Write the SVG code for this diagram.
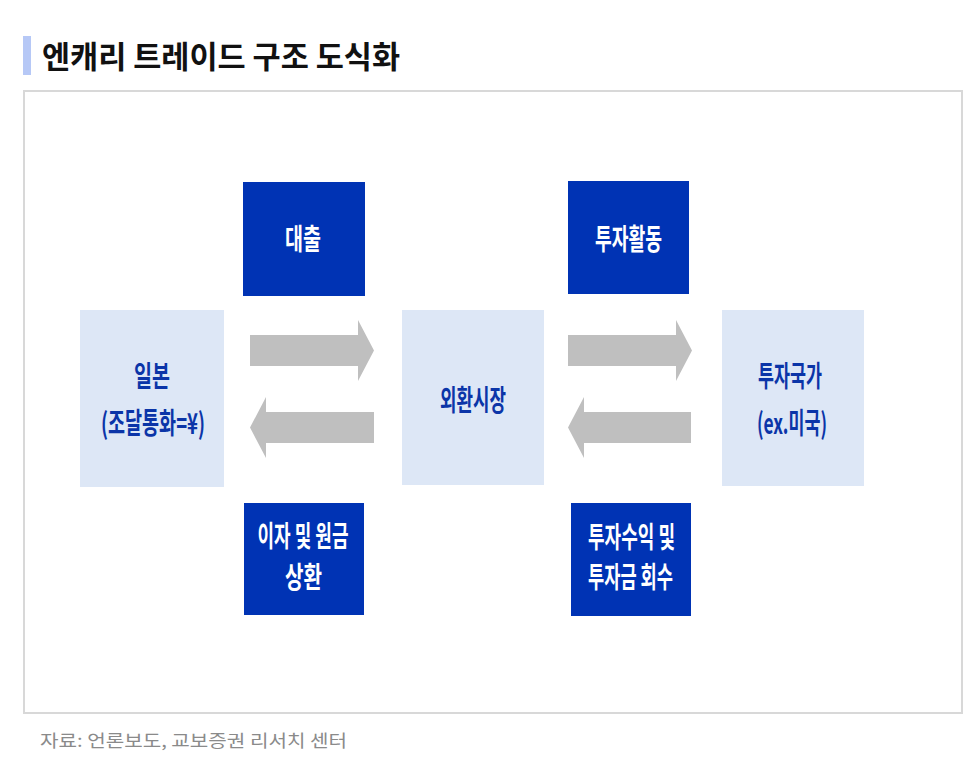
<svg xmlns="http://www.w3.org/2000/svg" width="975" height="766" viewBox="0 0 975 766">
<style>
.t{font-family:"Noto Sans CJK KR","Noto Sans",sans-serif;font-weight:bold;}
.dark{fill:#0033b4;}
.light{fill:#dde7f6;}
.wt{fill:#ffffff;font-size:29px;text-anchor:middle;}
.bt{fill:#0b35a8;font-size:29px;text-anchor:middle;}
.arr{fill:#bfbfbf;}
</style>
<rect width="975" height="766" fill="#ffffff"/>
<rect x="23" y="36" width="8" height="39" fill="#b6c8f6"/>
<text class="t" x="42" y="68" font-size="31" fill="#111111" textLength="358" lengthAdjust="spacingAndGlyphs">엔캐리 트레이드 구조 도식화</text>
<rect x="24" y="91" width="938" height="622" fill="#ffffff" stroke="#d8d8d8" stroke-width="2"/>

<g id="connectors">
<polygon class="arr" points="250,335 358,335 358,320 374,350.5 358,381 358,366 250,366"/>
<polygon class="arr" points="374,412 266,412 266,397 250,427.5 266,458 266,443 374,443"/>
<polygon class="arr" points="568,335 676,335 676,320 692,350.5 676,381 676,366 568,366"/>
<polygon class="arr" points="691,412 584,412 584,397 568,427.5 584,458 584,443 691,443"/>
</g>

<g id="node-japan">
<rect class="light" x="80" y="310" width="144" height="177"/>
<text class="t bt" x="152" y="387" textLength="36" lengthAdjust="spacingAndGlyphs">일본</text>
<text class="t bt" x="153" y="434" textLength="104" lengthAdjust="spacingAndGlyphs">(조달통화=¥)</text>
</g>
<g id="node-fx">
<rect class="light" x="402" y="310" width="142" height="175"/>
<text class="t bt" x="473" y="411" textLength="66" lengthAdjust="spacingAndGlyphs">외환시장</text>
</g>
<g id="node-invest-country">
<rect class="light" x="722" y="310" width="142" height="176"/>
<text class="t bt" x="790" y="387" textLength="64" lengthAdjust="spacingAndGlyphs">투자국가</text>
<text class="t bt" x="792" y="434" textLength="70" lengthAdjust="spacingAndGlyphs">(ex.미국)</text>
</g>
<g id="node-loan">
<rect class="dark" x="243" y="182" width="122" height="114"/>
<text class="t wt" x="303" y="250" textLength="36" lengthAdjust="spacingAndGlyphs">대출</text>
</g>
<g id="node-invest-activity">
<rect class="dark" x="568" y="181" width="121" height="113"/>
<text class="t wt" x="628.5" y="250" textLength="67" lengthAdjust="spacingAndGlyphs">투자활동</text>
</g>
<g id="node-repay">
<rect class="dark" x="244" y="503" width="120" height="112"/>
<text class="t wt" x="303" y="547" textLength="91" lengthAdjust="spacingAndGlyphs">이자 및 원금</text>
<text class="t wt" x="303.5" y="588" textLength="37" lengthAdjust="spacingAndGlyphs">상환</text>
</g>
<g id="node-return">
<rect class="dark" x="571" y="503" width="120" height="113"/>
<text class="t wt" x="631.5" y="548" textLength="87" lengthAdjust="spacingAndGlyphs">투자수익 및</text>
<text class="t wt" x="630.5" y="588" textLength="85" lengthAdjust="spacingAndGlyphs">투자금 회수</text>
</g>

<text x="40" y="747" font-family="'Noto Sans CJK KR','Noto Sans',sans-serif" font-size="17" fill="#8a8a8a" textLength="307" lengthAdjust="spacingAndGlyphs">자료: 언론보도, 교보증권 리서치 센터</text>
</svg>
